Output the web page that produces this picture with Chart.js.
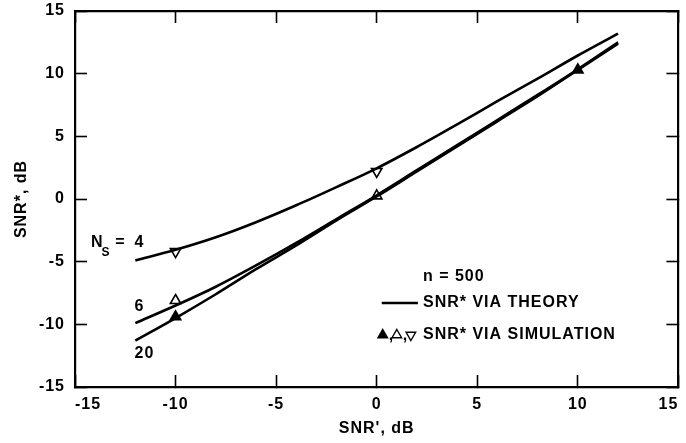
<!DOCTYPE html>
<html>
<head>
<meta charset="utf-8">
<script src="https://cdn.jsdelivr.net/npm/chart.js@4.4.1/dist/chart.umd.min.js"></script>
<style>
  html, body { margin: 0; padding: 0; background: #fff; }
  #wrap { width: 686px; height: 443px; }
</style>
</head>
<body>
<div id="wrap"><canvas id="chart"></canvas></div>
<script>
// theory curves, sampled along SNR' (dB)
const CURVE_X = [-12, -10, -8, -6, -4, -2, 0, 2, 4, 6, 8, 10, 12];
const NS4  = [-4.9, -4.05, -3.05, -1.85, -0.5, 0.95, 2.45, 4.15, 5.95, 7.8, 9.6, 11.45, 13.2];
const NS6  = [-9.9, -8.5, -7.0, -5.3, -3.5, -1.6, 0.3, 2.3, 4.3, 6.3, 8.3, 10.35, 12.5];
const NS20 = [-11.3, -9.5, -7.6, -5.6, -3.7, -1.7, 0.2, 2.2, 4.2, 6.2, 8.2, 10.3, 12.4];

// simulation points
const SIM4_X  = [-10, 0];
const SIM4_Y  = [-4.2, 2.2];
const SIM6_X  = [-10, 0];
const SIM6_Y  = [-8.1, 0.25];
const SIM20_X = [-10, 10];
const SIM20_Y = [-9.4, 10.3];

const TICKS = [-15, -10, -5, 0, 5, 10, 15];

const FONT = "'Liberation Sans', Arial, sans-serif";
const TXT = { family: FONT, size: 16, weight: 'bold' };

const pts = (xs, ys) => xs.map((x, i) => ({ x, y: ys[i] }));

function curve(ys) {
  return {
    data: pts(CURVE_X, ys),
    showLine: true,
    borderColor: '#000',
    borderWidth: 2.6,
    pointRadius: 0,
    cubicInterpolationMode: 'monotone',
    fill: false
  };
}

function marks(xs, ys, filled, rot) {
  return {
    data: pts(xs, ys),
    showLine: false,
    pointStyle: 'triangle',
    pointRotation: rot,
    pointRadius: 6,
    pointBorderWidth: 1.6,
    pointBorderColor: '#000',
    pointBackgroundColor: filled ? '#000' : '#fff'
  };
}

function tri(ctx, cx, cy, r, down, filled) {
  const s = down ? -1 : 1;
  ctx.beginPath();
  ctx.moveTo(cx, cy - s * r);
  ctx.lineTo(cx + r * 0.87, cy + s * r * 0.5);
  ctx.lineTo(cx - r * 0.87, cy + s * r * 0.5);
  ctx.closePath();
  ctx.fillStyle = filled ? '#000' : '#fff';
  ctx.fill();
  ctx.lineWidth = 1.4;
  ctx.stroke();
}

// curve labels and the key
const notePlugin = {
  id: 'notes',
  beforeDraw(c) {
    c.ctx.letterSpacing = '1px';
  },
  afterDraw(c) {
    const ctx = c.ctx;
    const x = c.scales.x, y = c.scales.y;
    const X = v => x.getPixelForValue(v);
    const Y = v => y.getPixelForValue(v);
    ctx.save();
    ctx.strokeStyle = '#000';
    ctx.fillStyle = '#000';
    ctx.textBaseline = 'middle';
    ctx.textAlign = 'left';
    ctx.letterSpacing = '1px';
    const f = sz => 'bold ' + sz + 'px ' + FONT;
    ctx.font = f(16);

    // N_S = 4
    ctx.fillText('N', X(-14.2), Y(-3.45));
    ctx.font = f(12);
    ctx.fillText('S', X(-13.68), Y(-4.25));
    ctx.font = f(16);
    ctx.fillText('=', X(-13.0), Y(-3.45));
    ctx.fillText('4', X(-12.04), Y(-3.45));
    ctx.fillText('6', X(-12.04), Y(-8.6));
    ctx.fillText('20', X(-12.04), Y(-12.35));

    // key
    ctx.fillText('n = 500', X(2.3), Y(-6.2));
    ctx.lineWidth = 2.6;
    ctx.beginPath();
    ctx.moveTo(X(0.25), Y(-8.3));
    ctx.lineTo(X(2.05), Y(-8.3));
    ctx.stroke();
    ctx.fillText('SNR* VIA THEORY', X(2.3), Y(-8.3));
    ctx.fillText('SNR* VIA SIMULATION', X(2.3), Y(-10.85));
    const ky = Y(-10.85);
    tri(ctx, X(0.3), ky, 5.5, false, true);
    ctx.fillStyle = '#000';
    ctx.fillText(',', X(0.6), ky + 1);
    tri(ctx, X(1.0), ky, 5.5, false, false);
    ctx.fillStyle = '#000';
    ctx.fillText(',', X(1.3), ky + 1);
    tri(ctx, X(1.7), ky, 5.5, true, false);
    ctx.restore();
  }
};

// fixed box sizes, and no extra label padding pushed into the layout
const fitBox = (w, h) => s => {
  if (w !== null) s.width = w;
  if (h !== null) s.height = h;
  s.paddingLeft = 0; s.paddingRight = 0;
  s.paddingTop = 0;  s.paddingBottom = 0;
};

// every side of the frame is an axis with inward tick marks
const axisCommon = {
  type: 'linear',
  min: -15,
  max: 15,
  grid: { display: true, drawOnChartArea: false, drawTicks: true, tickLength: -12, tickWidth: 1.6, tickColor: '#000', color: '#000' },
  border: { display: true, width: 2.2, color: '#000' },
  afterBuildTicks: s => { s.ticks = TICKS.map(v => ({ value: v })); }
};

new Chart(document.getElementById('chart'), {
  type: 'scatter',
  data: {
    datasets: [
      curve(NS4), curve(NS6), curve(NS20),
      marks(SIM4_X, SIM4_Y, false, 180),
      marks(SIM6_X, SIM6_Y, false, 0),
      marks(SIM20_X, SIM20_Y, true, 0)
    ]
  },
  options: {
    responsive: true,
    maintainAspectRatio: false,
    animation: false,
    layout: { padding: { top: 11, right: 3, left: 0, bottom: 0 } },
    plugins: { legend: { display: false }, tooltip: { enabled: false } },
    scales: {
      x: {
        ...axisCommon,
        position: 'bottom',
        ticks: { color: '#000', font: TXT, padding: 20, align: 'inner', maxRotation: 0 },
        title: { display: true, text: "SNR', dB", color: '#000', font: TXT, padding: { top: 0, bottom: 5 } },
        afterFit: fitBox(null, 56)
      },
      y: {
        ...axisCommon,
        position: 'left',
        ticks: { color: '#000', font: TXT, padding: 22 },
        title: { display: true, text: 'SNR*, dB', color: '#000', font: TXT, padding: { top: 12, bottom: 0 } },
        afterFit: fitBox(75, null)
      },
      x2: {
        ...axisCommon,
        position: 'top',
        ticks: { display: false },
        afterFit: fitBox(null, 0)
      },
      y2: {
        ...axisCommon,
        position: 'right',
        ticks: { display: false },
        afterFit: fitBox(0, null)
      }
    }
  },
  plugins: [notePlugin]
});
</script>
</body>
</html>
